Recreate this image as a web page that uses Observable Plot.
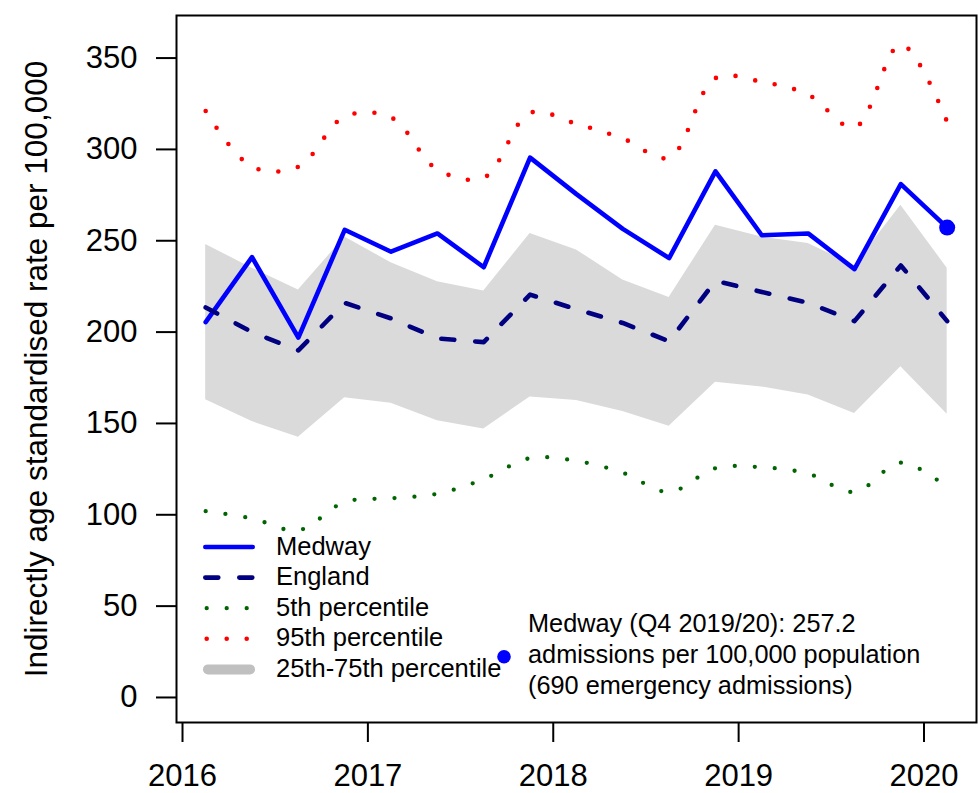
<!DOCTYPE html>
<html>
<head>
<meta charset="utf-8">
<script src="https://cdn.jsdelivr.net/npm/d3@7"></script>
<script src="https://cdn.jsdelivr.net/npm/@observablehq/plot@0.6"></script>
<style>
  html, body { margin: 0; padding: 0; background: #fff; }
  #chart { width: 979px; height: 793px; }
</style>
</head>
<body>
<div id="chart"></div>
<script>
// Quarter mid-points (decimal years), Q4 2015/16 .. Q4 2019/20
const periods = [2016.125, 2016.375, 2016.625, 2016.875, 2017.125, 2017.375, 2017.625, 2017.875,
                 2018.125, 2018.375, 2018.625, 2018.875, 2019.125, 2019.375, 2019.625, 2019.875, 2020.125];
const medway  = [205.5, 241, 197, 256, 244, 254, 235.5, 295.5, 275.5, 256.5, 240.5, 288, 253, 254, 234.5, 281, 257.2];
const england = [213.5, 200, 190, 216, 207.5, 196.5, 194.5, 220.5, 212.5, 205, 195, 228, 222, 216, 206, 236.5, 206];
const p25     = [163, 151, 142.5, 164, 161, 151.5, 147, 164.5, 162.5, 156.5, 148.5, 172.5, 170, 165.5, 155.5, 181, 155];
const p75     = [248, 235, 223, 252, 238, 227.5, 222.5, 254, 245, 228.5, 219, 258.5, 252, 248.5, 236.5, 269.5, 235];
const p5      = [102, 98, 91.5, 107, 109, 111.5, 119.5, 131, 129.5, 123, 112.5, 125.5, 126, 122.5, 112.5, 128.5, 115];
const p95     = [321, 290.5, 290.5, 318, 317.5, 289, 284.5, 320, 314, 306, 295.5, 339, 337, 330, 312, 357.5, 315];

const xTicks = [2016, 2017, 2018, 2019, 2020];
const yTicks = [0, 50, 100, 150, 200, 250, 300, 350];
const yLabel = "Indirectly age standardised rate per 100,000";
const legendLabels = ["Medway", "England", "5th percentile", "95th percentile", "25th-75th percentile"];
const annotationLines = ["Medway (Q4 2019/20): 257.2", "admissions per 100,000 population", "(690 emergency admissions)"];

const rows = periods.map((x, i) => ({x, medway: medway[i], england: england[i], p25: p25[i], p75: p75[i], p5: p5[i], p95: p95[i]}));
const last = rows[rows.length - 1];

const FONT = "'Liberation Sans', Arial, Helvetica, sans-serif";

const plot = Plot.plot({
  width: 979,
  height: 793,
  marginLeft: 176,
  marginRight: 3,
  marginTop: 15,
  marginBottom: 71,
  style: {fontFamily: FONT, fontSize: "31px", background: "white", color: "black"},
  x: {domain: [2015.9676, 2020.2832]},
  y: {domain: [-13.7, 373.3]},
  marks: [
    Plot.areaY(rows, {x: "x", y1: "p25", y2: "p75", fill: "#DADADA"}),
    Plot.line(rows, {x: "x", y: "p95", curve: "catmull-rom", stroke: "#FF0000", strokeWidth: 4.6, strokeDasharray: "0 20", strokeLinecap: "round"}),
    Plot.line(rows, {x: "x", y: "p5", curve: "catmull-rom", stroke: "#006400", strokeWidth: 4.3, strokeDasharray: "0 20", strokeLinecap: "round"}),
    Plot.line(rows, {x: "x", y: "medway", stroke: "#0000FF", strokeWidth: 4.6, strokeLinejoin: "round", strokeLinecap: "round"}),
    Plot.line(rows, {x: "x", y: "england", stroke: "#000080", strokeWidth: 4.6, strokeDasharray: "13 21", strokeLinecap: "round", strokeLinejoin: "round"}),
    Plot.dot([last], {x: "x", y: "medway", r: 8, fill: "#0000FF", stroke: "none"}),
    Plot.frame({stroke: "black", strokeWidth: 2}),
    Plot.axisX({ticks: xTicks, tickFormat: d => String(d), tickSize: 20, tickPadding: 21, fontSize: 31, strokeWidth: 2, label: null}),
    Plot.axisY({ticks: yTicks, tickFormat: d => String(d), tickSize: 20, tickPadding: 19, fontSize: 31, strokeWidth: 2, label: null}),
    Plot.text([yLabel], {text: d => d, frameAnchor: "left", rotate: -90, dx: -130, lineAnchor: "bottom", textAnchor: "middle", fontSize: 31.5, fill: "black"})
  ]
});

document.getElementById("chart").appendChild(plot);

// Legend (inside plot, lower-left) and annotation
const svg = d3.select(plot);
const lg = svg.append("g").attr("font-family", FONT).attr("font-size", 25.5).attr("fill", "black").attr("text-anchor", "start");
const legendStyles = [
  {stroke: "#0000FF", width: 4.6, dash: null, x1: 205.3, x2: 252.7},
  {stroke: "#000080", width: 4.6, dash: "13 21", x1: 205.3, x2: 255},
  {stroke: "#006400", width: 4.3, dash: "0 20", x1: 206.7, x2: 246.8},
  {stroke: "#FF0000", width: 4.6, dash: "0 20", x1: 206.7, x2: 246.8},
  {stroke: "#C0C0C0", width: 10, dash: null, x1: 208, x2: 250}
];
legendLabels.forEach((label, i) => {
  const base = 554.5 + 30.6 * i;
  const st = legendStyles[i];
  const ln = lg.append("line")
    .attr("x1", st.x1).attr("x2", st.x2)
    .attr("y1", base - 7.5).attr("y2", base - 7.5)
    .attr("stroke", st.stroke).attr("stroke-width", st.width)
    .attr("stroke-linecap", "round");
  if (st.dash) ln.attr("stroke-dasharray", st.dash);
  lg.append("text").attr("x", 276).attr("y", base).attr("text-anchor", "start").text(label);
});

const ann = svg.append("g").attr("font-family", FONT).attr("font-size", 25.3).attr("fill", "black").attr("text-anchor", "start");
ann.append("circle").attr("cx", 504).attr("cy", 656.7).attr("r", 6.8).attr("fill", "#0000FF");
annotationLines.forEach((t, i) => {
  ann.append("text").attr("x", 528).attr("y", 631.7 + 31.2 * i).attr("text-anchor", "start").text(t);
});
</script>
</body>
</html>
